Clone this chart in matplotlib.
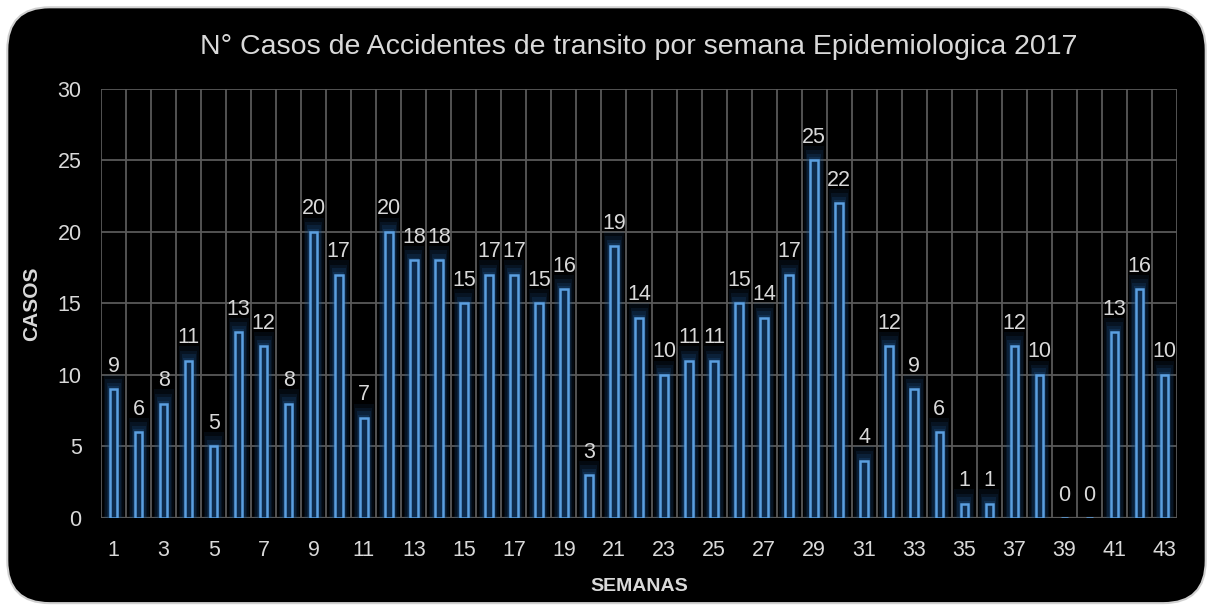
import matplotlib.pyplot as plt
from matplotlib.patches import FancyBboxPatch

semanas = list(range(1, 44))
casos = [9, 6, 8, 11, 5, 13, 12, 8, 20, 17, 7, 20, 18, 18, 15, 17, 17, 15, 16, 3,
         19, 14, 10, 11, 11, 15, 14, 17, 25, 22, 4, 12, 9, 6, 1, 1, 12, 10, 0, 0,
         13, 16, 10]

plt.rcParams['font.family'] = ['Liberation Sans', 'DejaVu Sans']

fig = plt.figure(figsize=(12.13, 6.08), dpi=100)
fig.patch.set_facecolor('white')

# rounded black card behind the chart
card = FancyBboxPatch((0.006, 0.008), 0.988, 0.98, boxstyle="round,pad=0,rounding_size=0.035",
                      transform=fig.transFigure, facecolor='black', edgecolor='#d0d0d0',
                      linewidth=1.5, mutation_aspect=2.0, zorder=-10)
fig.patches.append(card)

ax = fig.add_axes([0.0833, 0.148, 0.887, 0.706])
ax.set_facecolor('black')
ax.patch.set_alpha(0)

x = list(range(len(semanas)))

# glow around the bars
for w, extra, a in [(0.8, 1.0, 0.12), (0.68, 0.7, 0.16), (0.56, 0.45, 0.22), (0.45, 0.2, 0.3)]:
    alto = [v + extra if v > 0 else 0 for v in casos]
    ax.bar(x, alto, width=w, color='#1c5288', alpha=a, linewidth=0, zorder=2)
ax.bar(x, casos, width=0.3, facecolor='#0e2b4c', edgecolor='#5b9fe0', linewidth=1.8, zorder=3)

for xi, v in zip(x, casos):
    ax.annotate(str(v), (xi, v), xytext=(0, 9), textcoords='offset points',
                ha='center', va='bottom', color='#d9d9d9', fontsize=15.5, zorder=4)

ax.set_xlim(-0.5, len(semanas) - 0.5)
ax.set_ylim(0, 30)
ax.set_yticks(range(0, 31, 5))
ax.set_xticks(x[::2])
ax.set_xticklabels([str(s) for s in semanas[::2]])
ax.set_xticks([i - 0.5 for i in range(len(semanas) + 1)], minor=True)

ax.grid(axis='y', color='#595959', linewidth=1.3, zorder=1)
ax.grid(axis='x', which='minor', color='#595959', linewidth=1.3, zorder=1)
ax.grid(axis='x', which='major', visible=False)
ax.tick_params(axis='both', which='both', length=0, colors='#d9d9d9', labelsize=15.5)
ax.tick_params(axis='x', pad=16)
ax.tick_params(axis='y', pad=14)
for s in ax.spines.values():
    s.set_visible(False)
ax.axhline(0, color='#595959', linewidth=1.6, zorder=1)

ax.set_title('N° Casos de Accidentes de transito por semana Epidemiologica 2017',
             color='#d9d9d9', fontsize=20.5, pad=25)
ax.set_xlabel('SEMANAS', color='#d9d9d9', fontsize=14, fontweight='bold', labelpad=12)
ax.set_ylabel('CASOS', color='#d9d9d9', fontsize=15, fontweight='bold', labelpad=12)

fig.savefig('out.png', dpi=100, facecolor='white')
